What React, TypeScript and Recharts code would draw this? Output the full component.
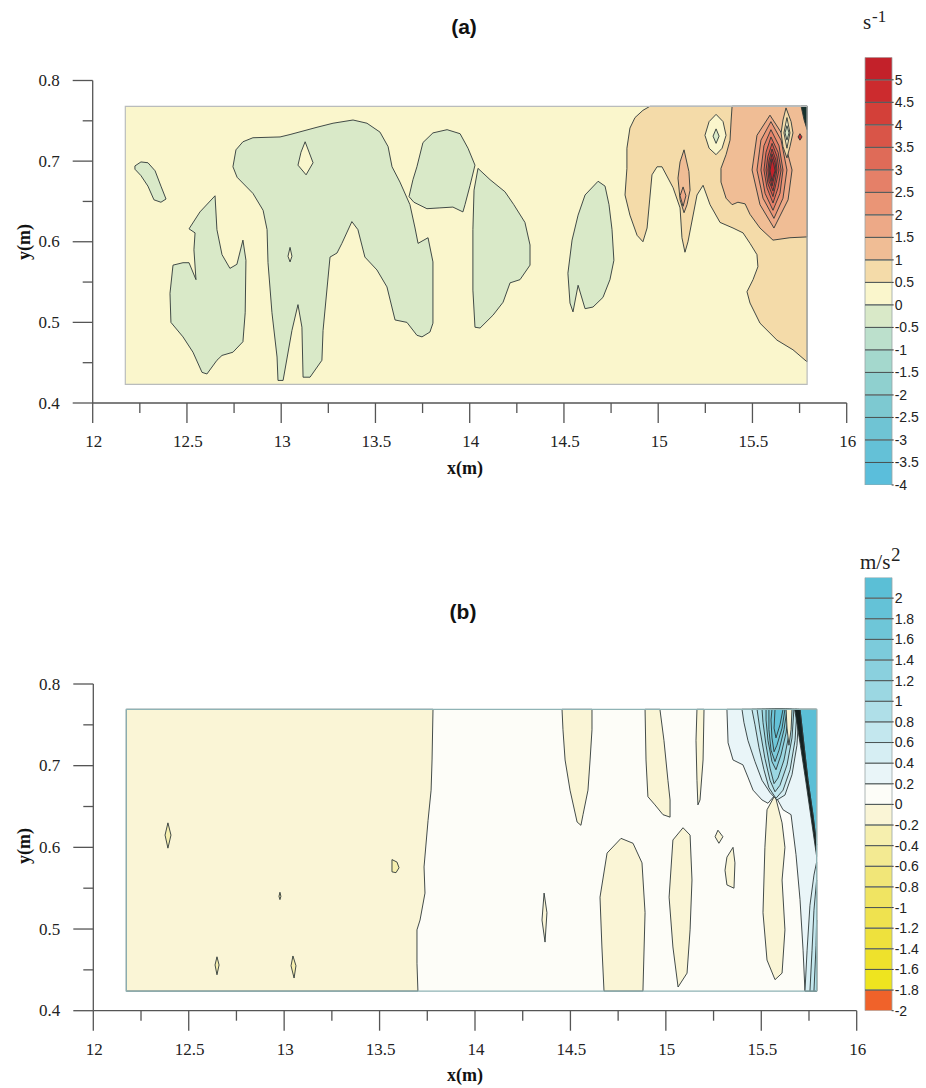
import React from 'react';
import { ScatterChart, Scatter, XAxis, YAxis, BarChart, Bar, ReferenceLine } from 'recharts';

type Pt = [number, number];

const SERIF = "'Liberation Serif', 'Times New Roman', serif";
const SANS = "'Liberation Sans', Arial, sans-serif";
const AXIS = '#555555';
const LINE = '#2e3838';

// ---------- axes ----------
const X_TICKS = [12, 12.25, 12.5, 12.75, 13, 13.25, 13.5, 13.75, 14, 14.25, 14.5, 14.75, 15, 15.25, 15.5, 15.75, 16];
const Y_TICKS = [0.4, 0.45, 0.5, 0.55, 0.6, 0.65, 0.7, 0.75, 0.8];

// ---------- colour scales ----------
const LEVELS_A = [-4, -3.5, -3, -2.5, -2, -1.5, -1, -0.5, 0, 0.5, 1, 1.5, 2, 2.5, 3, 3.5, 4, 4.5, 5];
const TOP_A = 5.5;
const COLORS_A = ['#5bbedb', '#64c1d7', '#6fc4d4', '#7dc9d1', '#8fd0cf', '#a4d8cd', '#bce0cc', '#d9e9c8', '#faf6cc', '#f4dba9', '#f0bd95', '#eda987', '#ea9576', '#e58068', '#df6b58', '#d95548', '#d34039', '#cc2b2e', '#c3212a'];
const TICKS_A = [-4, -3.5, -3, -2.5, -2, -1.5, -1, -0.5, 0, 0.5, 1, 1.5, 2, 2.5, 3, 3.5, 4, 4.5, 5];

const LEVELS_B = [-2, -1.8, -1.6, -1.4, -1.2, -1, -0.8, -0.6, -0.4, -0.2, 0, 0.2, 0.4, 0.6, 0.8, 1, 1.2, 1.4, 1.6, 1.8, 2];
const TOP_B = 2.2;
const COLORS_B = ['#f0622a', '#eee41f', '#eee12c', '#eee13d', '#efe24f', '#f0e462', '#f1e678', '#f3ea92', '#f6efae', '#faf5d6', '#fdfdf8', '#e9f5f8', '#d6eef3', '#c3e7ee', '#afdfe8', '#9bd7e2', '#8ad0de', '#7ccbdb', '#6ec6d8', '#64c2d7', '#5bbfd6'];
const TICKS_B = [-2, -1.8, -1.6, -1.4, -1.2, -1, -0.8, -0.6, -0.4, -0.2, 0, 0.2, 0.4, 0.6, 0.8, 1, 1.2, 1.4, 1.6, 1.8, 2];

// ---------- panel (a) contour polygons (x m, y m) ----------
const RECT_A: Pt[] = [[12.173, 0.423], [12.173, 0.768], [15.79, 0.768], [15.79, 0.423]];
const BLOB_A1: Pt[] = [[12.224, 0.694], [12.256, 0.699], [12.293, 0.698], [12.331, 0.688], [12.362, 0.669], [12.389, 0.653], [12.362, 0.649], [12.325, 0.652], [12.293, 0.669], [12.256, 0.682], [12.224, 0.69]];
const BLOB_A2: Pt[] = [[12.649, 0.657], [12.659, 0.615], [12.686, 0.584], [12.728, 0.567], [12.765, 0.572], [12.797, 0.602], [12.813, 0.577], [12.809, 0.512], [12.797, 0.476], [12.744, 0.463], [12.686, 0.459], [12.659, 0.453], [12.606, 0.436], [12.58, 0.438], [12.532, 0.463], [12.479, 0.482], [12.415, 0.5], [12.41, 0.536], [12.426, 0.571], [12.479, 0.574], [12.511, 0.574], [12.548, 0.553], [12.537, 0.59], [12.543, 0.611], [12.511, 0.616], [12.569, 0.637]];
const BLOB_A3: Pt[] = [[12.744, 0.693], [12.76, 0.714], [12.797, 0.724], [12.85, 0.729], [12.994, 0.73], [13.047, 0.733], [13.19, 0.742], [13.275, 0.747], [13.381, 0.751], [13.455, 0.747], [13.524, 0.736], [13.567, 0.718], [13.588, 0.693], [13.63, 0.674], [13.683, 0.646], [13.71, 0.617], [13.726, 0.598], [13.779, 0.605], [13.805, 0.575], [13.805, 0.499], [13.789, 0.488], [13.747, 0.482], [13.72, 0.484], [13.667, 0.5], [13.604, 0.503], [13.561, 0.544], [13.508, 0.565], [13.444, 0.581], [13.407, 0.615], [13.375, 0.625], [13.322, 0.598], [13.296, 0.586], [13.259, 0.581], [13.222, 0.49], [13.216, 0.453], [13.153, 0.432], [13.116, 0.432], [13.11, 0.494], [13.089, 0.522], [13.057, 0.49], [13.01, 0.428], [12.983, 0.428], [12.978, 0.457], [12.951, 0.512], [12.93, 0.574], [12.925, 0.615], [12.904, 0.639], [12.85, 0.66], [12.766, 0.68]];
const HOLE_A1: Pt[] = [[13.127, 0.724], [13.169, 0.698], [13.132, 0.683], [13.089, 0.695], [13.105, 0.711]];
const HOLE_A2: Pt[] = [[13.047, 0.593], [13.057, 0.582], [13.047, 0.575], [13.036, 0.582]];
const BLOB_A4: Pt[] = [[13.678, 0.656], [13.699, 0.677], [13.72, 0.693], [13.752, 0.723], [13.805, 0.735], [13.88, 0.739], [13.949, 0.734], [13.991, 0.716], [14.028, 0.695], [14.002, 0.67], [13.975, 0.646], [13.964, 0.637], [13.911, 0.643], [13.842, 0.642], [13.773, 0.641], [13.704, 0.649]];
const BLOB_A5: Pt[] = [[14.044, 0.691], [14.108, 0.677], [14.187, 0.662], [14.234, 0.646], [14.293, 0.624], [14.32, 0.596], [14.32, 0.571], [14.267, 0.553], [14.214, 0.549], [14.177, 0.525], [14.124, 0.509], [14.055, 0.493], [14.028, 0.494], [14.017, 0.54], [14.017, 0.615], [14.023, 0.664]];
const BLOB_A6: Pt[] = [[14.681, 0.675], [14.718, 0.669], [14.739, 0.646], [14.755, 0.615], [14.765, 0.577], [14.744, 0.553], [14.707, 0.531], [14.654, 0.519], [14.612, 0.517], [14.575, 0.546], [14.548, 0.513], [14.532, 0.524], [14.521, 0.561], [14.543, 0.602], [14.575, 0.633], [14.612, 0.658]];
const TAN_A: Pt[] = [[14.956, 0.768], [15.79, 0.768], [15.79, 0.451], [15.715, 0.466], [15.63, 0.478], [15.54, 0.499], [15.487, 0.524], [15.471, 0.538], [15.503, 0.553], [15.529, 0.569], [15.524, 0.584], [15.487, 0.598], [15.45, 0.611], [15.397, 0.617], [15.328, 0.624], [15.275, 0.646], [15.238, 0.67], [15.206, 0.658], [15.158, 0.6], [15.142, 0.587], [15.126, 0.605], [15.116, 0.642], [15.079, 0.667], [15.02, 0.693], [14.994, 0.693], [14.967, 0.683], [14.941, 0.617], [14.919, 0.6], [14.888, 0.608], [14.85, 0.633], [14.824, 0.658], [14.834, 0.691], [14.834, 0.716], [14.85, 0.741], [14.877, 0.754], [14.919, 0.763]];
const HIGH_A: Pt[] = [[15.392, 0.768], [15.79, 0.768], [15.79, 0.606], [15.699, 0.605], [15.609, 0.602], [15.54, 0.617], [15.487, 0.634], [15.461, 0.647], [15.423, 0.649], [15.392, 0.646], [15.36, 0.654], [15.333, 0.674], [15.333, 0.691], [15.36, 0.708], [15.381, 0.726], [15.387, 0.751]];
const SPIN_OUT_A: Pt[] = [[15.137, 0.714], [15.163, 0.687], [15.169, 0.664], [15.153, 0.646], [15.137, 0.636], [15.116, 0.652], [15.105, 0.679], [15.116, 0.699]];
const SPIN_IN_A: Pt[] = [[15.132, 0.668], [15.147, 0.657], [15.132, 0.644], [15.116, 0.657]];
const LOOP_G_OUT: Pt[] = [[15.307, 0.758], [15.344, 0.749], [15.36, 0.732], [15.339, 0.716], [15.307, 0.708], [15.27, 0.716], [15.248, 0.732], [15.27, 0.749]];
const LOOP_G_IN: Pt[] = [[15.307, 0.74], [15.323, 0.731], [15.307, 0.722], [15.291, 0.731]];
const RING_1: Pt[] = [[15.593, 0.757], [15.662, 0.732], [15.71, 0.689], [15.689, 0.652], [15.614, 0.617], [15.54, 0.646], [15.498, 0.689], [15.524, 0.732]];
const RING_2: Pt[] = [[15.598, 0.749], [15.652, 0.726], [15.683, 0.689], [15.662, 0.654], [15.614, 0.629], [15.556, 0.654], [15.524, 0.689], [15.545, 0.726]];
const RING_3: Pt[] = [[15.598, 0.739], [15.641, 0.719], [15.662, 0.689], [15.646, 0.66], [15.609, 0.639], [15.567, 0.66], [15.545, 0.689], [15.561, 0.719]];
const RING_4: Pt[] = [[15.598, 0.73], [15.636, 0.711], [15.652, 0.689], [15.636, 0.667], [15.609, 0.648], [15.577, 0.667], [15.561, 0.689], [15.572, 0.711]];
const RING_5: Pt[] = [[15.604, 0.722], [15.63, 0.706], [15.641, 0.689], [15.625, 0.672], [15.609, 0.656], [15.582, 0.672], [15.572, 0.689], [15.582, 0.706]];
const RING_6: Pt[] = [[15.604, 0.715], [15.625, 0.701], [15.63, 0.689], [15.62, 0.675], [15.609, 0.663], [15.588, 0.675], [15.582, 0.689], [15.588, 0.701]];
const RING_7: Pt[] = [[15.604, 0.709], [15.62, 0.698], [15.625, 0.689], [15.614, 0.679], [15.604, 0.669], [15.593, 0.679], [15.588, 0.689], [15.593, 0.698]];
const RING_8: Pt[] = [[15.604, 0.703], [15.614, 0.695], [15.62, 0.688], [15.609, 0.68], [15.604, 0.675], [15.598, 0.682], [15.593, 0.688], [15.598, 0.695]];
const LOOP_H_OUT: Pt[] = [[15.678, 0.766], [15.705, 0.749], [15.715, 0.735], [15.699, 0.718], [15.683, 0.704], [15.662, 0.718], [15.652, 0.735], [15.662, 0.751]];
const LOOP_H_MID: Pt[] = [[15.683, 0.754], [15.699, 0.735], [15.683, 0.716], [15.667, 0.735]];
const LOOP_H_IN: Pt[] = [[15.683, 0.744], [15.694, 0.735], [15.683, 0.726], [15.673, 0.735]];
const DOT_A: Pt[] = [[15.752, 0.734], [15.763, 0.73], [15.752, 0.726], [15.742, 0.73]];
const WEDGE_A: Pt[] = [[15.758, 0.768], [15.79, 0.768], [15.79, 0.739], [15.774, 0.751]];

// ---------- panel (b) contour polygons ----------
const RECT_B: Pt[] = [[12.173, 0.424], [12.173, 0.769], [15.79, 0.769], [15.79, 0.424]];
const CREAM_B: Pt[] = [[12.173, 0.769], [13.78, 0.769], [13.775, 0.707], [13.77, 0.67], [13.754, 0.633], [13.733, 0.576], [13.738, 0.544], [13.712, 0.511], [13.696, 0.499], [13.696, 0.458], [13.701, 0.424], [12.173, 0.424]];
const M1_B: Pt[] = [[12.391, 0.63], [12.407, 0.615], [12.391, 0.599], [12.376, 0.615]];
const M2_B: Pt[] = [[12.978, 0.545], [12.983, 0.54], [12.978, 0.536], [12.973, 0.54]];
const M3_B: Pt[] = [[13.565, 0.585], [13.591, 0.582], [13.602, 0.575], [13.586, 0.569], [13.565, 0.57]];
const M4_B: Pt[] = [[12.648, 0.466], [12.659, 0.456], [12.648, 0.444], [12.638, 0.456]];
const M5_B: Pt[] = [[13.046, 0.467], [13.062, 0.455], [13.052, 0.44], [13.036, 0.455]];
const S1_B: Pt[] = [[14.456, 0.769], [14.613, 0.769], [14.613, 0.744], [14.603, 0.707], [14.592, 0.67], [14.566, 0.64], [14.555, 0.627], [14.535, 0.631], [14.498, 0.67], [14.472, 0.707], [14.461, 0.744]];
const S2_B: Pt[] = [[14.891, 0.769], [14.969, 0.769], [14.99, 0.731], [15.011, 0.682], [15.022, 0.658], [15.022, 0.637], [14.985, 0.64], [14.943, 0.652], [14.906, 0.662], [14.896, 0.707]];
const S3_B: Pt[] = [[15.163, 0.769], [15.2, 0.769], [15.195, 0.707], [15.179, 0.658], [15.168, 0.652], [15.163, 0.682], [15.158, 0.731]];
const S4_B: Pt[] = [[14.765, 0.611], [14.828, 0.605], [14.875, 0.581], [14.891, 0.52], [14.88, 0.424], [14.676, 0.424], [14.665, 0.478], [14.655, 0.539], [14.692, 0.593]];
const S5_B: Pt[] = [[15.09, 0.624], [15.127, 0.615], [15.137, 0.56], [15.127, 0.499], [15.111, 0.446], [15.064, 0.429], [15.037, 0.478], [15.017, 0.539], [15.037, 0.609]];
const S6_B: Pt[] = [[15.273, 0.621], [15.299, 0.613], [15.278, 0.605], [15.258, 0.613]];
const S7_B: Pt[] = [[15.352, 0.6], [15.362, 0.581], [15.357, 0.55], [15.32, 0.554], [15.31, 0.572], [15.32, 0.588]];
const S8_B: Pt[] = [[14.362, 0.544], [14.377, 0.52], [14.367, 0.484], [14.351, 0.511]];
const S9_B: Pt[] = [[15.572, 0.664], [15.609, 0.63], [15.624, 0.6], [15.609, 0.56], [15.624, 0.499], [15.609, 0.446], [15.572, 0.438], [15.53, 0.462], [15.509, 0.52], [15.519, 0.6], [15.53, 0.646]];
const B02_B: Pt[] = [[15.32, 0.769], [15.79, 0.769], [15.79, 0.424], [15.729, 0.424], [15.719, 0.474], [15.703, 0.536], [15.682, 0.591], [15.656, 0.64], [15.614, 0.646], [15.572, 0.664], [15.535, 0.654], [15.504, 0.658], [15.457, 0.67], [15.43, 0.686], [15.404, 0.701], [15.352, 0.707], [15.326, 0.728]];
const B04_B: Pt[] = [[15.399, 0.769], [15.698, 0.769], [15.687, 0.725], [15.661, 0.689], [15.624, 0.664], [15.582, 0.658], [15.546, 0.667], [15.504, 0.682], [15.467, 0.705], [15.43, 0.731], [15.409, 0.753]];
const V06_B: Pt[] = [[15.451, 0.769], [15.687, 0.769], [15.677, 0.731], [15.651, 0.695], [15.614, 0.67], [15.577, 0.66], [15.54, 0.673], [15.514, 0.695], [15.488, 0.722], [15.467, 0.75]];
const V08_B: Pt[] = [[15.478, 0.769], [15.671, 0.769], [15.661, 0.734], [15.635, 0.701], [15.598, 0.676], [15.572, 0.668], [15.546, 0.682], [15.519, 0.709], [15.493, 0.744]];
const V10_B: Pt[] = [[15.504, 0.769], [15.656, 0.769], [15.645, 0.738], [15.619, 0.707], [15.588, 0.685], [15.567, 0.678], [15.546, 0.697], [15.525, 0.725], [15.509, 0.753]];
const V12_B: Pt[] = [[15.525, 0.769], [15.645, 0.769], [15.63, 0.74], [15.603, 0.713], [15.577, 0.695], [15.556, 0.705], [15.535, 0.731], [15.525, 0.756]];
const V14_B: Pt[] = [[15.54, 0.769], [15.635, 0.769], [15.619, 0.744], [15.593, 0.719], [15.572, 0.705], [15.551, 0.719], [15.54, 0.744]];
const V16_B: Pt[] = [[15.556, 0.769], [15.624, 0.769], [15.609, 0.746], [15.582, 0.725], [15.567, 0.717], [15.556, 0.734], [15.551, 0.756]];
const V18_B: Pt[] = [[15.572, 0.769], [15.614, 0.769], [15.598, 0.75], [15.577, 0.734], [15.567, 0.746]];
const LENS_B: Pt[] = [[15.63, 0.769], [15.661, 0.769], [15.656, 0.744], [15.645, 0.725], [15.635, 0.746]];
const TEAL_B: Pt[] = [[15.703, 0.769], [15.79, 0.769], [15.79, 0.603], [15.771, 0.64], [15.745, 0.682], [15.724, 0.725]];
const BAND_B: Pt[] = [[15.675, 0.769], [15.703, 0.769], [15.724, 0.725], [15.745, 0.682], [15.771, 0.64], [15.79, 0.603], [15.79, 0.589], [15.761, 0.636], [15.734, 0.68], [15.705, 0.725], [15.688, 0.75]];
const F1_B: Pt[] = [[15.729, 0.424], [15.74, 0.474], [15.755, 0.529], [15.776, 0.566], [15.79, 0.582], [15.79, 0.424]];
const F2_B: Pt[] = [[15.755, 0.424], [15.766, 0.474], [15.776, 0.523], [15.79, 0.56], [15.79, 0.424]];
const F3_B: Pt[] = [[15.776, 0.424], [15.787, 0.48], [15.79, 0.511], [15.79, 0.424]];

// ---------- shape tables (polygon + band level) ----------
type Shape = { pts: Pt[]; level: number | null; color?: string; noStroke?: boolean };
const colorA = (lv: number) => COLORS_A[LEVELS_A.indexOf(lv)];
const colorB = (lv: number) => COLORS_B[LEVELS_B.indexOf(lv)];

const SHAPES_A: Shape[] = [
  { pts: RECT_A, level: 0, noStroke: true },
  { pts: BLOB_A1, level: -0.5 }, { pts: BLOB_A2, level: -0.5 }, { pts: BLOB_A3, level: -0.5 },
  { pts: BLOB_A4, level: -0.5 }, { pts: BLOB_A5, level: -0.5 }, { pts: BLOB_A6, level: -0.5 },
  { pts: HOLE_A1, level: 0 }, { pts: HOLE_A2, level: 0 },
  { pts: TAN_A, level: 0.5 },
  { pts: HIGH_A, level: 1 },
  { pts: SPIN_OUT_A, level: 1 }, { pts: SPIN_IN_A, level: 1.5 },
  { pts: LOOP_G_OUT, level: 0 }, { pts: LOOP_G_IN, level: -0.5 },
  { pts: RING_1, level: 1.5 }, { pts: RING_2, level: 2 }, { pts: RING_3, level: 2.5 }, { pts: RING_4, level: 3 },
  { pts: RING_5, level: 3.5 }, { pts: RING_6, level: 4 }, { pts: RING_7, level: 4.5 }, { pts: RING_8, level: 5 },
  { pts: LOOP_H_OUT, level: 0.5 }, { pts: LOOP_H_MID, level: 0 }, { pts: LOOP_H_IN, level: -0.5 },
  { pts: DOT_A, level: 4.5 },
  { pts: WEDGE_A, level: null, color: '#17312c' },
];

const SHAPES_B: Shape[] = [
  { pts: RECT_B, level: 0, noStroke: true },
  { pts: CREAM_B, level: -0.2 },
  { pts: M1_B, level: -0.4 }, { pts: M2_B, level: -0.4 }, { pts: M3_B, level: -0.4 }, { pts: M4_B, level: -0.4 }, { pts: M5_B, level: -0.4 },
  { pts: B02_B, level: 0.2 },
  { pts: S1_B, level: -0.2 }, { pts: S2_B, level: -0.2 }, { pts: S3_B, level: -0.2 }, { pts: S4_B, level: -0.2 },
  { pts: S5_B, level: -0.2 }, { pts: S6_B, level: -0.2 }, { pts: S7_B, level: -0.2 }, { pts: S8_B, level: -0.2 }, { pts: S9_B, level: -0.2 },
  { pts: B04_B, level: 0.4 },
  { pts: V06_B, level: 0.6 }, { pts: V08_B, level: 0.8 }, { pts: V10_B, level: 1 }, { pts: V12_B, level: 1.2 },
  { pts: V14_B, level: 1.4 }, { pts: V16_B, level: 1.6 }, { pts: V18_B, level: 1.8 },
  { pts: LENS_B, level: -0.2 },
  { pts: TEAL_B, level: 2 },
  { pts: BAND_B, level: null, color: '#152221' },
  { pts: F1_B, level: 0.4 }, { pts: F2_B, level: 0.6 }, { pts: F3_B, level: 0.8 },
];

// ---------- helpers ----------
const noDot = () => null;
const toXY = (pts: Pt[]) => pts.map(([x, y]) => ({ x, y }));

const renderShapes = (shapes: Shape[], colorOf: (lv: number) => string) =>
  shapes.map((s, i) => (
    <Scatter
      key={`s${i}`}
      data={toXY(s.pts)}
      line={{
        fill: s.color ?? colorOf(s.level as number),
        stroke: s.noStroke ? 'none' : LINE,
        strokeWidth: 0.9,
        strokeLinejoin: 'round',
      }}
      lineJointType="linearClosed"
      shape={noDot}
      isAnimationActive={false}
    />
  ));

const tickText = { fontFamily: SERIF, fontSize: 17, fill: '#222' } as const;

const XTick = (props: any) => {
  const { x, y, payload } = props;
  const v = payload.value as number;
  const major = Math.abs(v * 2 - Math.round(v * 2)) < 1e-6;
  return (
    <g>
      <line x1={x} y1={y} x2={x} y2={y + (major ? 20 : 10)} stroke={AXIS} strokeWidth={1.3} />
      {major && (
        <text x={x + 1} y={y + 44} textAnchor="middle" style={tickText}>
          {String(v)}
        </text>
      )}
    </g>
  );
};

const YTick = (props: any) => {
  const { x, y, payload } = props;
  const v = payload.value as number;
  const major = Math.abs(v * 10 - Math.round(v * 10)) < 1e-6;
  return (
    <g>
      <line x1={x - (major ? 20 : 10)} y1={y} x2={x} y2={y} stroke={AXIS} strokeWidth={1.3} />
      {major && (
        <text x={x - 33} y={y + 5.5} textAnchor="end" style={tickText}>
          {String(v)}
        </text>
      )}
    </g>
  );
};

function ContourPanel({ shapes, colorOf, rect, height, margin, border }: any) {
  return (
    <ScatterChart width={926} height={height} margin={margin}>
      <XAxis
        type="number"
        dataKey="x"
        domain={[12, 16]}
        ticks={X_TICKS}
        interval={0}
        allowDataOverflow
        height={50}
        tickLine={false}
        tickSize={0}
        tickMargin={0}
        tick={XTick}
        axisLine={{ stroke: AXIS, strokeWidth: 1.3 }}
      />
      <YAxis
        type="number"
        dataKey="y"
        domain={[0.4, 0.8]}
        ticks={Y_TICKS}
        interval={0}
        allowDataOverflow
        width={60}
        tickLine={false}
        tickSize={0}
        tickMargin={0}
        tick={YTick}
        axisLine={{ stroke: AXIS, strokeWidth: 1.3 }}
      />
      {renderShapes(shapes, colorOf)}
      <Scatter
        data={toXY(rect)}
        line={{ fill: 'none', stroke: border, strokeWidth: 1.2 }}
        lineJointType="linearClosed"
        shape={noDot}
        isAnimationActive={false}
      />
    </ScatterChart>
  );
}

function buildColorbar(levels: number[], top: number, colors: string[]) {
  const bands = levels.map((lo, i) => {
    const hi = i + 1 < levels.length ? levels[i + 1] : top;
    return { lo, hi, color: colors[i], key: `b${i}` };
  });
  const pos = bands.filter((b) => b.lo >= 0).sort((a, b) => a.lo - b.lo);
  const neg = bands.filter((b) => b.lo < 0).sort((a, b) => b.hi - a.hi);
  const ordered = [...pos, ...neg];
  const row: Record<string, number | string> = { name: 'bar' };
  ordered.forEach((b) => {
    row[b.key] = b.lo >= 0 ? b.hi - b.lo : b.lo - b.hi;
  });
  return { data: [row], ordered };
}

function Colorbar({ levels, top, colors, ticks, height, margin }: any) {
  const { data, ordered } = buildColorbar(levels, top, colors);
  return (
    <BarChart width={76} height={height} data={data} margin={margin} stackOffset="sign" barCategoryGap={0} barGap={0}>
      <XAxis dataKey="name" hide />
      <YAxis
        orientation="right"
        type="number"
        domain={[levels[0], top]}
        allowDataOverflow
        ticks={ticks}
        interval={0}
        width={34.3}
        axisLine={false}
        tickLine={{ stroke: '#3a3a3a', strokeWidth: 1 }}
        tickSize={2}
        tickMargin={1}
        tick={{ fontSize: 14, fill: '#222', fontFamily: SANS }}
      />
      {ordered.map((b: any) => (
        <Bar key={b.key} dataKey={b.key} stackId="cb" fill={b.color} stroke="#9aa4a4" strokeWidth={0.8} isAnimationActive={false} />
      ))}
      {levels.slice(1).map((v: number) => (
        <ReferenceLine key={`r${v}`} y={v} stroke="#3b4444" strokeOpacity={0.85} strokeWidth={1} />
      ))}
    </BarChart>
  );
}

export default function App() {
  return (
    <div style={{ position: 'absolute', left: 0, top: 0, width: 926, height: 1088, background: '#ffffff', overflow: 'hidden' }}>
      <div style={{ position: 'absolute', left: 0, top: 0 }}>
        <ContourPanel
          shapes={SHAPES_A}
          colorOf={colorA}
          rect={RECT_A}
          height={500}
          margin={{ top: 80.5, right: 79.3, bottom: 47, left: 32.7 }}
          border="#b9bcbc"
        />
      </div>
      <div style={{ position: 'absolute', left: 0, top: 540 }}>
        <ContourPanel
          shapes={SHAPES_B}
          colorOf={colorB}
          rect={RECT_B}
          height={540}
          margin={{ top: 144, right: 69.3, bottom: 19.3, left: 33.3 }}
          border="#8fb3b5"
        />
      </div>
      <div style={{ position: 'absolute', left: 850, top: 40 }}>
        <Colorbar levels={LEVELS_A} top={TOP_A} colors={COLORS_A} ticks={TICKS_A} height={460} margin={{ top: 17.3, right: 0, bottom: 15, left: 15 }} />
      </div>
      <div style={{ position: 'absolute', left: 850, top: 560 }}>
        <Colorbar levels={LEVELS_B} top={TOP_B} colors={COLORS_B} ticks={TICKS_B} height={470} margin={{ top: 17.5, right: 0, bottom: 19.3, left: 15 }} />
      </div>
      <svg width={926} height={1088} style={{ position: 'absolute', left: 0, top: 0, pointerEvents: 'none' }}>
        <text x={464} y={34} textAnchor="middle" fontFamily={SANS} fontWeight="bold" fontSize={21} fill="#111">(a)</text>
        <text x={463} y={619} textAnchor="middle" fontFamily={SANS} fontWeight="bold" fontSize={21} fill="#111">(b)</text>
        <text x={465} y={474} textAnchor="middle" fontFamily={SERIF} fontWeight="bold" fontSize={18} fill="#111">x(m)</text>
        <text x={465} y={1081} textAnchor="middle" fontFamily={SERIF} fontWeight="bold" fontSize={18} fill="#111">x(m)</text>
        <text transform="translate(30,242) rotate(-90)" textAnchor="middle" fontFamily={SERIF} fontWeight="bold" fontSize={18} fill="#111">y(m)</text>
        <text transform="translate(30,846) rotate(-90)" textAnchor="middle" fontFamily={SERIF} fontWeight="bold" fontSize={18} fill="#111">y(m)</text>
        <text x={863} y={29} fontFamily={SERIF} fontSize={21} fill="#222">s</text>
        <text x={872} y={22} fontFamily={SERIF} fontSize={17} fill="#222">-1</text>
        <text x={860} y={569} fontFamily={SERIF} fontSize={21} fill="#222">m/s</text>
        <text x={891} y={561} fontFamily={SERIF} fontSize={19} fill="#222">2</text>
      </svg>
    </div>
  );
}
